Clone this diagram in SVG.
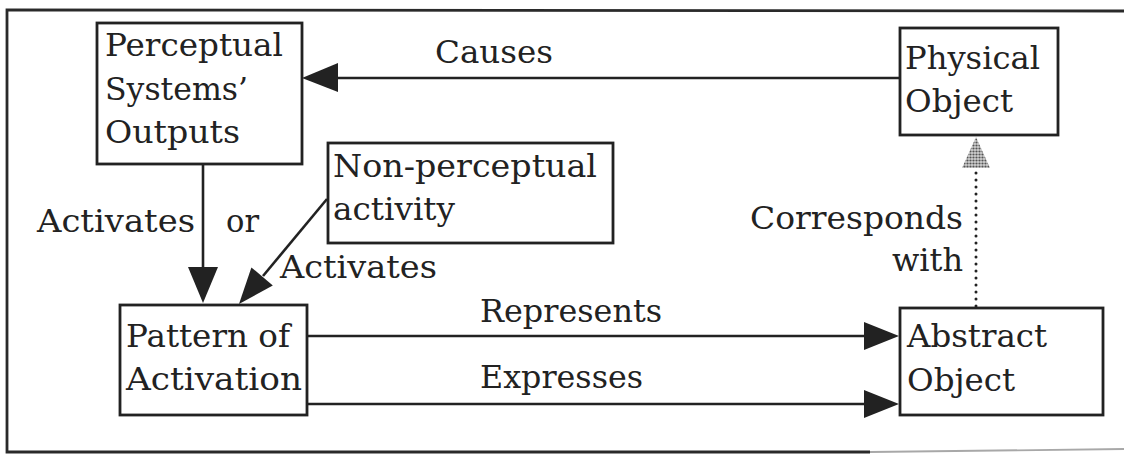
<svg xmlns="http://www.w3.org/2000/svg" width="1124" height="454" viewBox="0 0 1124 454">
  <style>
    .box { fill: #ffffff; stroke: #222222; stroke-width: 2.8; }
    .edge { fill: none; stroke: #222222; stroke-width: 2.6; }
    .head { fill: #222222; stroke: none; }
    .frame { fill: none; stroke: #2a2a2a; stroke-width: 2.8; }
    text { font-family: "DejaVu Serif", "Liberation Serif", serif; font-size: 32px; fill: #222222; }
  </style>
  <defs>
    <!-- stippled grey fill for the dotted arrow's head -->
    <pattern id="stipple" width="3" height="3" patternUnits="userSpaceOnUse">
      <rect width="3" height="3" fill="#d0d0d0"/>
      <circle cx="1.5" cy="1.5" r="1.1" fill="#555555"/>
    </pattern>
  </defs>

  <rect width="1124" height="454" fill="#ffffff"/>

  <!-- outer frame -->
  <path class="frame" d="M1124,11 L7,10 L7,452 L870,452"/>
  <path d="M870,452 L1124,449" fill="none" stroke="#a8a8a8" stroke-width="1.8"/>

  <!-- connectors -->
  <g id="connectors">
    <!-- Physical Object -> Perceptual Systems' Outputs -->
    <line class="edge" x1="336" y1="78" x2="900" y2="78"/>
    <polygon class="head" points="302,78 338,63 338,92"/>
    <text x="435" y="63" textLength="118" lengthAdjust="spacingAndGlyphs">Causes</text>

    <!-- Perceptual Systems' Outputs -> Pattern of Activation -->
    <line class="edge" x1="203" y1="164" x2="203" y2="270"/>
    <polygon class="head" points="188,267 218,267 203,303"/>
    <text x="37" y="232" textLength="158" lengthAdjust="spacingAndGlyphs">Activates</text>
    <text x="226" y="232" textLength="33" lengthAdjust="spacingAndGlyphs">or</text>

    <!-- Non-perceptual activity -> Pattern of Activation -->
    <line class="edge" x1="327" y1="199" x2="263" y2="276"/>
    <polygon class="head" points="239,304 272.8,285.4 251.4,267.4"/>
    <text x="280" y="278" textLength="157" lengthAdjust="spacingAndGlyphs">Activates</text>

    <!-- Pattern of Activation -> Abstract Object -->
    <line class="edge" x1="307" y1="336" x2="866" y2="336"/>
    <polygon class="head" points="899,336 864,322 864,350"/>
    <text x="480" y="322" textLength="182" lengthAdjust="spacingAndGlyphs">Represents</text>

    <line class="edge" x1="307" y1="404" x2="866" y2="404"/>
    <polygon class="head" points="899,404 864,390 864,418"/>
    <text x="480" y="388" textLength="163" lengthAdjust="spacingAndGlyphs">Expresses</text>

    <!-- Abstract Object -> Physical Object (dotted) -->
    <line x1="976" y1="306" x2="976" y2="170" stroke="#222222" stroke-width="3" stroke-linecap="round" stroke-dasharray="0 7"/>
    <polygon points="976,137 962,168 990,168" fill="url(#stipple)"/>
    <text x="963" y="229" text-anchor="end" textLength="213" lengthAdjust="spacingAndGlyphs">Corresponds</text>
    <text x="963" y="271" text-anchor="end">with</text>
  </g>

  <!-- nodes -->
  <g id="perceptual-outputs">
    <rect class="box" x="97" y="23" width="205" height="141"/>
    <text x="105" y="56" textLength="178" lengthAdjust="spacingAndGlyphs">Perceptual</text>
    <text x="105" y="100" textLength="143" lengthAdjust="spacingAndGlyphs">Systems’</text>
    <text x="105" y="143" textLength="135" lengthAdjust="spacingAndGlyphs">Outputs</text>
  </g>

  <g id="non-perceptual">
    <rect class="box" x="328" y="143" width="285" height="100"/>
    <text x="333" y="177" textLength="264" lengthAdjust="spacingAndGlyphs">Non-perceptual</text>
    <text x="333" y="220" textLength="122" lengthAdjust="spacingAndGlyphs">activity</text>
  </g>

  <g id="physical-object">
    <rect class="box" x="900" y="28" width="158" height="107"/>
    <text x="905" y="69" textLength="135" lengthAdjust="spacingAndGlyphs">Physical</text>
    <text x="905" y="112" textLength="108" lengthAdjust="spacingAndGlyphs">Object</text>
  </g>

  <g id="pattern-of-activation">
    <rect class="box" x="120" y="305" width="187" height="110"/>
    <text x="126" y="347" textLength="164" lengthAdjust="spacingAndGlyphs">Pattern of</text>
    <text x="126" y="390" textLength="176" lengthAdjust="spacingAndGlyphs">Activation</text>
  </g>

  <g id="abstract-object">
    <rect class="box" x="900" y="308" width="203" height="107"/>
    <text x="907" y="347" textLength="140" lengthAdjust="spacingAndGlyphs">Abstract</text>
    <text x="907" y="391" textLength="108" lengthAdjust="spacingAndGlyphs">Object</text>
  </g>
</svg>
